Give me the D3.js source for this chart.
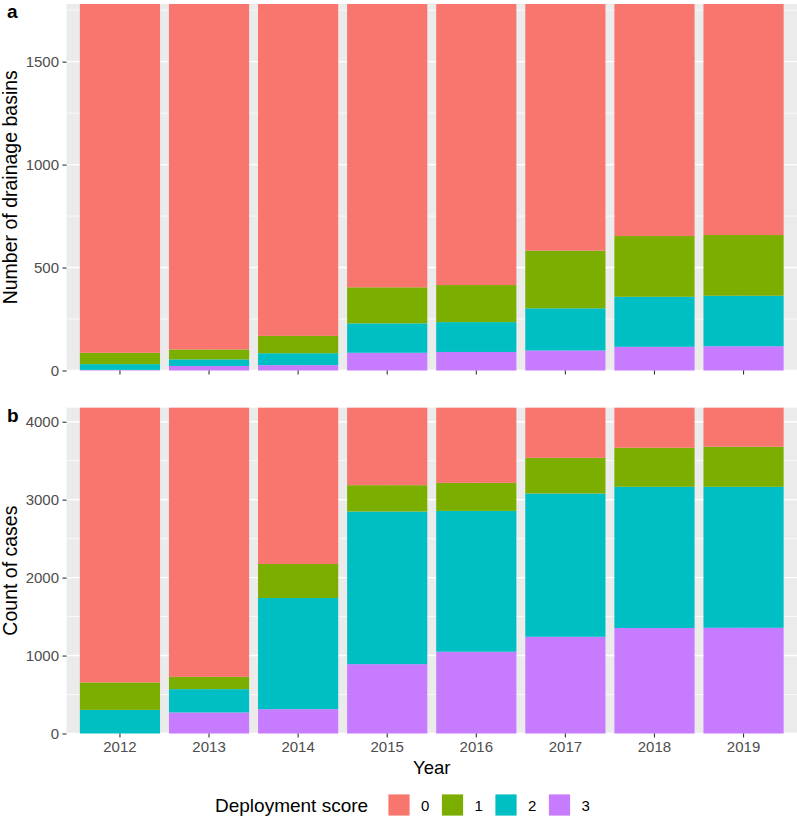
<!DOCTYPE html>
<html>
<head>
<meta charset="utf-8">
<script src="https://cdn.jsdelivr.net/npm/d3@7"></script>
<style>
  body { margin: 0; background: #fff; }
  svg { display: block; font-family: "Liberation Sans", Arial, Helvetica, sans-serif; }
</style>
</head>
<body>
<div id="chart"></div>
<script>
  // data
  var years  = ['2012', '2013', '2014', '2015', '2016', '2017', '2018', '2019'];
  var scores = ['0', '1', '2', '3'];

  // panel a: number of drainage basins per deployment score
  var basins0 = [1694, 1678, 1612, 1376, 1365, 1198, 1127, 1122],
      basins1 = [  55,   48,   84,  175,  180,  280,  295,  295],
      basins2 = [  28,   32,   58,  143,  145,  205,  243,  245],
      basins3 = [   3,   22,   26,   86,   90,   97,  115,  118];

  // panel b: count of cases per deployment score
  var cases0 = [3525, 3453, 2005,  994,  964,  643,  514,  501],
      cases1 = [ 352,  158,  437,  338,  360,  458,  501,  514],
      cases2 = [ 303,  299, 1426, 1958, 1807, 1838, 1812, 1809],
      cases3 = [   0,  270,  312,  890, 1049, 1241, 1353, 1356];

  var basinTicks = [0, 500, 1000, 1500],
      basinMinor = [250, 750, 1250, 1750],
      caseTicks  = [0, 1000, 2000, 3000, 4000],
      caseMinor  = [500, 1500, 2500, 3500];

  var colours = ['#F8766D', '#7CAE00', '#00BFC4', '#C77CFF'];

  // shared config
  var width  = 797,
      height = 825,
      left   = 66.5,
      right  = 797;

  function rows(series){
    return years.map(function(y, i){
      var r = {year: y};
      scores.forEach(function(s, j){ r[s] = series[j][i] });
      return r;
    });
  }

  var panels = [
    {tag: 'a', title: 'Number of drainage basins', top: 4, bottom: 370.5,
     data: rows([basins0, basins1, basins2, basins3]), ticks: basinTicks, minor: basinMinor, labels: false},
    {tag: 'b', title: 'Count of cases', top: 407.7, bottom: 733.5,
     data: rows([cases0, cases1, cases2, cases3]), ticks: caseTicks, minor: caseMinor, labels: true}
  ];

  var svg = d3.select('#chart').append('svg')
    .attr('width', width)
    .attr('height', height);

  var x = d3.scaleBand()
    .domain(years)
    .range([left, right])
    .paddingInner(0.1)
    .paddingOuter(0.15);

  var colour = d3.scaleOrdinal().domain(scores).range(colours);

  // stack order: score 3 at the bottom, score 0 on top
  var stack = d3.stack().keys(scores.slice().reverse());

  panels.forEach(function(p){
    var totals = p.data.map(function(d){ return d3.sum(scores, function(s){ return d[s] }) });

    var y = d3.scaleLinear()
      .domain([0, d3.max(totals)])
      .range([p.bottom, p.top]);

    var g = svg.append('g');

    // background
    g.append('rect')
      .attr('x', left)
      .attr('y', p.top)
      .attr('width', right - left)
      .attr('height', p.bottom - p.top)
      .attr('fill', '#EBEBEB');

    // grid
    g.selectAll('.minor').data(p.minor).enter().append('line')
      .attr('x1', left).attr('x2', right)
      .attr('y1', function(d){ return y(d) }).attr('y2', function(d){ return y(d) })
      .attr('stroke', '#fff').attr('stroke-width', 0.7);
    g.selectAll('.major').data(p.ticks).enter().append('line')
      .attr('x1', left).attr('x2', right)
      .attr('y1', function(d){ return y(d) }).attr('y2', function(d){ return y(d) })
      .attr('stroke', '#fff').attr('stroke-width', 1.4);
    g.selectAll('.vmajor').data(years).enter().append('line')
      .attr('x1', function(d){ return x(d) + x.bandwidth()/2 })
      .attr('x2', function(d){ return x(d) + x.bandwidth()/2 })
      .attr('y1', p.top).attr('y2', p.bottom)
      .attr('stroke', '#fff').attr('stroke-width', 1.4);

    // bars
    g.selectAll('.layer')
      .data(stack(p.data))
      .enter().append('g')
        .attr('fill', function(d){ return colour(d.key) })
      .selectAll('rect')
      .data(function(d){ return d })
      .enter().append('rect')
        .attr('x', function(d){ return x(d.data.year) })
        .attr('width', x.bandwidth())
        .attr('y', function(d){ return y(d[1]) })
        .attr('height', function(d){ return y(d[0]) - y(d[1]) });

    // axes
    var yAxis = g.append('g')
      .attr('transform', 'translate(' + left + ',0)')
      .call(d3.axisLeft(y).tickValues(p.ticks).tickFormat(d3.format('d')).tickSize(4).tickPadding(3.5));

    var xAxis = g.append('g')
      .attr('transform', 'translate(0,' + p.bottom + ')')
      .call(d3.axisBottom(x).tickSize(4).tickPadding(3.8));

    [yAxis, xAxis].forEach(function(a){
      a.select('.domain').remove();
      a.selectAll('line').attr('stroke', '#333').attr('stroke-width', 1.1);
      a.selectAll('text').attr('fill', '#4D4D4D').style('font-size', '15px');
    });
    if(!p.labels) xAxis.selectAll('text').remove();

    // titles
    g.append('text')
      .attr('transform', 'translate(17,' + (p.top + p.bottom)/2 + ') rotate(-90)')
      .attr('text-anchor', 'middle')
      .style('font-size', '19.5px')
      .text(p.title);

    g.append('text')
      .attr('x', 7)
      .attr('y', p.top + 14)
      .style('font-size', '19px')
      .style('font-weight', 'bold')
      .text(p.tag);
  });

  svg.append('text')
    .attr('x', (left + right)/2)
    .attr('y', 774)
    .attr('text-anchor', 'middle')
    .style('font-size', '18.5px')
    .text('Year');

  // legend
  var legend = svg.append('g');

  legend.append('text')
    .attr('x', 215)
    .attr('y', 812)
    .style('font-size', '19px')
    .text('Deployment score');

  var item = legend.selectAll('.item')
    .data(scores)
    .enter().append('g')
      .attr('transform', function(d, i){ return 'translate(' + (388 + i*53.5) + ',794)' });

  item.append('rect')
    .attr('width', 22)
    .attr('height', 22)
    .attr('fill', function(d){ return colour(d) })
    .attr('stroke', '#fff')
    .attr('stroke-width', 0.8);

  item.append('text')
    .attr('x', 33)
    .attr('y', 16.5)
    .style('font-size', '15px')
    .text(function(d){ return d });
</script>
</body>
</html>
